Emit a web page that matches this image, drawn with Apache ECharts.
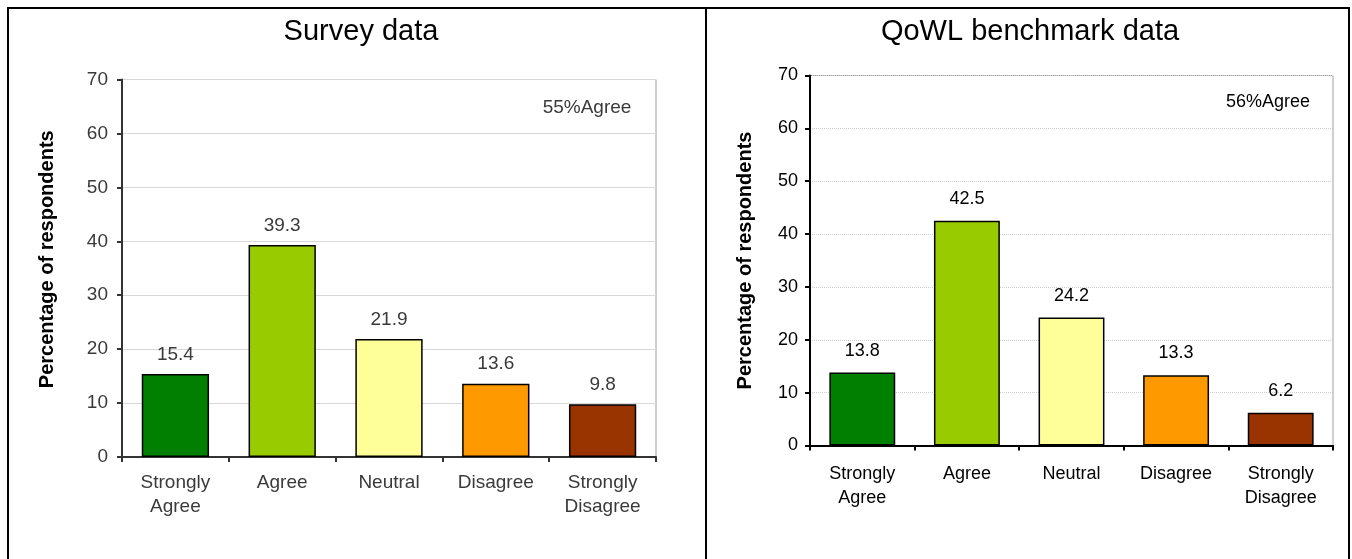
<!DOCTYPE html>
<html>
<head>
<meta charset="utf-8">
<script src="https://cdn.jsdelivr.net/npm/echarts@6/dist/echarts.min.js"></script>
<style>
  html, body { margin: 0; padding: 0; background: #fff; }
  #wrap { position: relative; width: 1352px; height: 559px; overflow: hidden; }
  #left { position: absolute; left: 0; top: 0; width: 706px; height: 559px; filter: blur(0.6px); }
  #right { position: absolute; left: 706px; top: 0; width: 646px; height: 559px; }
  .frame { position: absolute; background: #000; }
</style>
</head>
<body>
<div id="wrap">
  <div id="left"></div>
  <div id="right"></div>
  <div class="frame" style="left:7px; top:7px; width:1343px; height:2px;"></div>
  <div class="frame" style="left:7px; top:7px; width:2px; height:560px;"></div>
  <div class="frame" style="left:705px; top:7px; width:2px; height:560px;"></div>
  <div class="frame" style="left:1348px; top:7px; width:2px; height:560px;"></div>
</div>
<script>
// Response categories shared by both charts
const categories = ['Strongly\nAgree', 'Agree', 'Neutral', 'Disagree', 'Strongly\nDisagree'];
const barColors = ['#007F00', '#99CC00', '#FFFF99', '#FF9900', '#993300'];

// Percentage of respondents per category
const surveyValues = [15.4, 39.3, 21.9, 13.6, 9.8];
const benchmarkValues = [13.8, 42.5, 24.2, 13.3, 6.2];

// Y axis range
const yMin = 0, yMax = 70, yStep = 10;

const surveyTitle = 'Survey data';
const benchmarkTitle = 'QoWL benchmark data';
const surveyNote = '55%Agree';
const benchmarkNote = '56%Agree';
const yName = 'Percentage of respondents';

const FONT = 'Liberation Sans, Arial, sans-serif';

function build(cfg) {
  const txt = cfg.textColor;
  return {
    animation: false,
    textStyle: { fontFamily: FONT },
    title: {
      text: cfg.title,
      left: cfg.titleX, top: cfg.titleTop,
      textAlign: 'center',
      textStyle: { fontSize: cfg.titleSize, fontWeight: 'normal', color: '#000', fontFamily: FONT }
    },
    grid: {
      left: cfg.grid.left, top: cfg.grid.top, width: cfg.grid.width, height: cfg.grid.height,
      show: true, borderColor: cfg.frameColor, borderWidth: 1, backgroundColor: 'transparent'
    },
    graphic: [{
      type: 'text',
      x: cfg.noteX, y: cfg.noteY,
      style: { text: cfg.note, fill: txt, font: cfg.fontSize + 'px ' + FONT, textAlign: 'center', textVerticalAlign: 'middle' }
    }],
    xAxis: {
      type: 'category',
      data: categories,
      boundaryGap: true,
      axisLine: { lineStyle: { color: cfg.axisColor, width: 2 } },
      axisTick: { show: true, alignWithLabel: false, length: 5, lineStyle: { color: cfg.axisColor, width: 2 } },
      axisLabel: { color: txt, fontSize: cfg.fontSize, margin: cfg.catMargin, lineHeight: cfg.catLine, interval: 0 }
    },
    yAxis: {
      type: 'value',
      min: yMin, max: yMax, interval: yStep,
      name: yName,
      nameLocation: 'middle',
      nameGap: cfg.nameGap,
      nameTextStyle: { color: '#000', fontWeight: 'bold', fontSize: cfg.nameSize, padding: cfg.namePad },
      axisLine: { show: true, lineStyle: { color: cfg.axisColor, width: 2 } },
      axisTick: { show: true, length: 5, lineStyle: { color: cfg.axisColor, width: 2 } },
      axisLabel: { color: txt, fontSize: cfg.fontSize, margin: cfg.tickMargin },
      splitLine: { show: true, lineStyle: { color: cfg.gridColor, width: 1, type: cfg.gridType } }
    },
    series: [{
      type: 'bar',
      data: cfg.values.map((v, i) => ({ value: v, itemStyle: { color: barColors[i] } })),
      barWidth: '63%',
      itemStyle: { borderColor: '#000', borderWidth: 1.5 },
      label: {
        show: true, position: 'top', distance: cfg.labelGap,
        color: txt, fontSize: cfg.fontSize,
        formatter: p => p.value.toFixed(1)
      }
    }]
  };
}

const leftChart = echarts.init(document.getElementById('left'), null, { renderer: 'canvas' });
leftChart.setOption(build({
  title: surveyTitle, titleX: 356, titleTop: 12, titleSize: 29,
  grid: { left: 122, top: 79.5, width: 534, height: 377.5 },
  values: surveyValues, note: surveyNote, noteX: 587, noteY: 108,
  textColor: '#3a3a3a', axisColor: '#333', frameColor: '#9a9a9a', gridColor: '#d8d8d8', gridType: 'solid',
  fontSize: 19, nameSize: 20, nameGap: 65, namePad: [0, 0, 0, 18], tickMargin: 14, catMargin: 14, catLine: 24, labelGap: 10
}));

const rightChart = echarts.init(document.getElementById('right'), null, { renderer: 'canvas' });
rightChart.setOption(build({
  title: benchmarkTitle, titleX: 319, titleTop: 12, titleSize: 29,
  grid: { left: 104, top: 75.5, width: 523, height: 370 },
  values: benchmarkValues, note: benchmarkNote, noteX: 562, noteY: 102,
  textColor: '#000', axisColor: '#000', frameColor: '#a0a0a0', gridColor: '#cfcfcf', gridType: 'dotted',
  fontSize: 18, nameSize: 20, nameGap: 55, namePad: [0, 0, 0, 0], tickMargin: 12, catMargin: 17, catLine: 24, labelGap: 13
}));
</script>
</body>
</html>
